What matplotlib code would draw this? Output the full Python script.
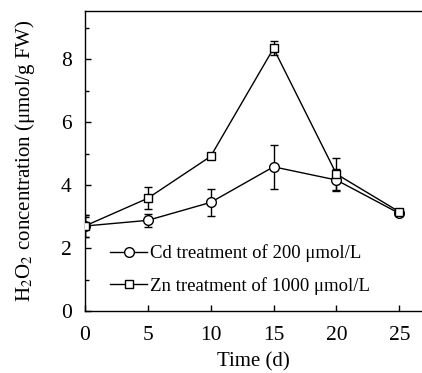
import numpy as np
import matplotlib.pyplot as plt
from matplotlib.ticker import MultipleLocator

plt.rcParams['font.family'] = 'Liberation Serif'
plt.rcParams['mathtext.fontset'] = 'stix'

# Data
days = [0, 5, 10, 15, 20, 25]
cd_mean = [2.70, 2.88, 3.45, 4.58, 4.16, 3.10]
cd_err = [0.35, 0.20, 0.42, 0.70, 0.35, 0.05]
zn_mean = [2.70, 3.58, 4.91, 8.34, 4.35, 3.15]
zn_err = [0.35, 0.35, 0.05, 0.22, 0.50, 0.05]

fig = plt.figure(figsize=(4.22, 3.73), dpi=100)
ax = fig.add_axes([0.201, 0.166, 0.799, 0.804])

ax.errorbar(days, cd_mean, yerr=cd_err, color='black', lw=1.0, marker='o',
            ms=7, mfc='white', mec='black', mew=1.0, capsize=3, elinewidth=1.0,
            label='Cd treatment of 200 μmol/L', zorder=3)
ax.errorbar(days, zn_mean, yerr=zn_err, color='black', lw=1.0, marker='s',
            ms=5.5, mfc='white', mec='black', mew=1.0, capsize=3, elinewidth=1.0,
            label='Zn treatment of 1000 μmol/L', zorder=3)

ax.set_xlim(0, 26.8)
ax.set_ylim(0, 9.52)
ax.set_xticks(days)
ax.yaxis.set_major_locator(MultipleLocator(2))
ax.yaxis.set_minor_locator(MultipleLocator(1))
ax.tick_params(direction='in', labelsize=15.5, length=4, width=1)
ax.tick_params(axis='x', pad=11)
ax.tick_params(axis='y', pad=9.5)
ax.tick_params(which='minor', direction='in', length=3, width=1)
ax.spines['right'].set_visible(False)
for s in ['left', 'bottom', 'top']:
    ax.spines[s].set_linewidth(1.0)

ax.set_xlabel('Time (d)', fontsize=15, labelpad=5)
ax.set_ylabel('H$_2$O$_2$ concentration (μmol/g FW)', fontsize=15, labelpad=17)

handles, labels = ax.get_legend_handles_labels()
handles = [h[0] for h in handles]
ax.legend(handles, labels, loc='upper left', bbox_to_anchor=(0.074, 0.223),
          frameon=False, fontsize=13.5, handlelength=2.0, handletextpad=0.15,
          labelspacing=0.8, borderaxespad=0, borderpad=0)

plt.savefig('out.png', dpi=100)
